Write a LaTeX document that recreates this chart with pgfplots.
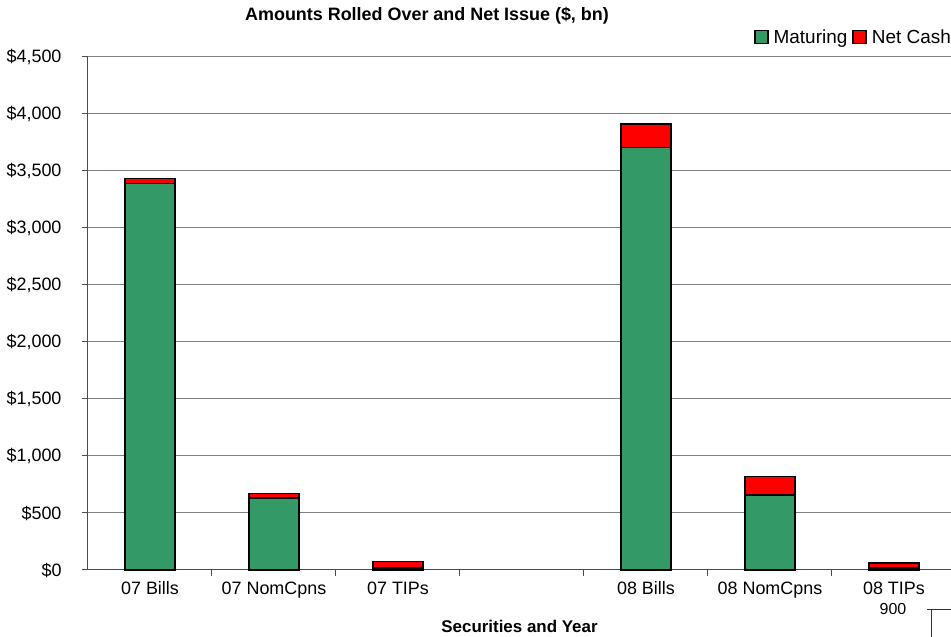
\documentclass[border=0pt]{standalone}
\usepackage{pgfplots}
\pgfplotsset{compat=1.18}
\usepackage{fontspec}
\setmainfont{Liberation Sans}
\definecolor{matgreen}{HTML}{339966}
\definecolor{netred}{HTML}{FF0000}
\definecolor{gridgray}{HTML}{808080}
\begin{document}
\begin{tikzpicture}[x=1bp,y=1bp]
\path[use as bounding box] (-88,-67) rectangle (863,570);
\begin{axis}[
  at={(0,0)}, anchor=south west,
  scale only axis,
  width=863bp, height=513bp,
  ybar stacked,
  bar width=50bp,
  xmin=-0.5, xmax=6.46,
  ymin=0, ymax=4500,
  ytick={0,500,...,4500},
  xtick={0,1,2,4,5,6},
  xticklabels={07 Bills,07 NomCpns,07 TIPs,08 Bills,08 NomCpns,08 TIPs},
  minor xtick={0.5,1.5,2.5,3.5,4.5,5.5},
  major x tick style={draw=none},
  minor tick length=6bp,
  major tick length=6bp,
  tick align=outside,
  axis x line*=bottom,
  axis y line*=left,
  axis line style={-, black!70, line width=1bp},
  tick style={black!70, line width=1bp},
  ymajorgrids,
  grid style={gridgray, line width=1bp},
  yticklabel={\$\pgfmathprintnumber{\tick}},
  /pgf/number format/.cd, 1000 sep={,}, assume math mode=true,
  /pgfplots/.cd,
  ticklabel style={font=\fontsize{18}{20}\selectfont},
  xticklabel style={yshift=-2bp},
  yticklabel style={xshift=-17bp},
  xlabel={\textbf{Securities and Year}},
  xlabel style={font=\fontsize{17}{19}\selectfont, at={(axis description cs:0.5,0)}, anchor=center, yshift=-56bp},
  legend style={at={(1,1)}, anchor=south east, yshift=10bp, xshift=2bp, draw=none, fill=none,
    font=\fontsize{19}{21}\selectfont, inner sep=0pt, column sep=3bp},
  legend columns=2,
  legend image code/.code={\draw[#1, draw=black, line width=1.6bp] (0bp,-6.5bp) rectangle (13bp,6.5bp);},
  clip=false,
]
\addplot[fill=matgreen, draw=black, line width=1.6bp] coordinates {(0,3390) (1,630) (2,15) (4,3705) (5,660) (6,15)};
\addplot[fill=netred, draw=black, line width=1.6bp] coordinates {(0,45) (1,40) (2,60) (4,205) (5,160) (6,45)};
\legend{Maturing, Net Cash}
\end{axis}
\node[font=\fontsize{18}{20}\selectfont\bfseries] at (339,554) {Amounts Rolled Over and Net Issue (\$, bn)};
\node[font=\fontsize{16}{18}\selectfont] at (805,-39) {900};
\draw[black!80, line width=1bp] (839,-40) -- (863,-40);
\draw[black!80, line width=1bp] (843,-40) -- (843,-67);
\end{tikzpicture}
\end{document}
